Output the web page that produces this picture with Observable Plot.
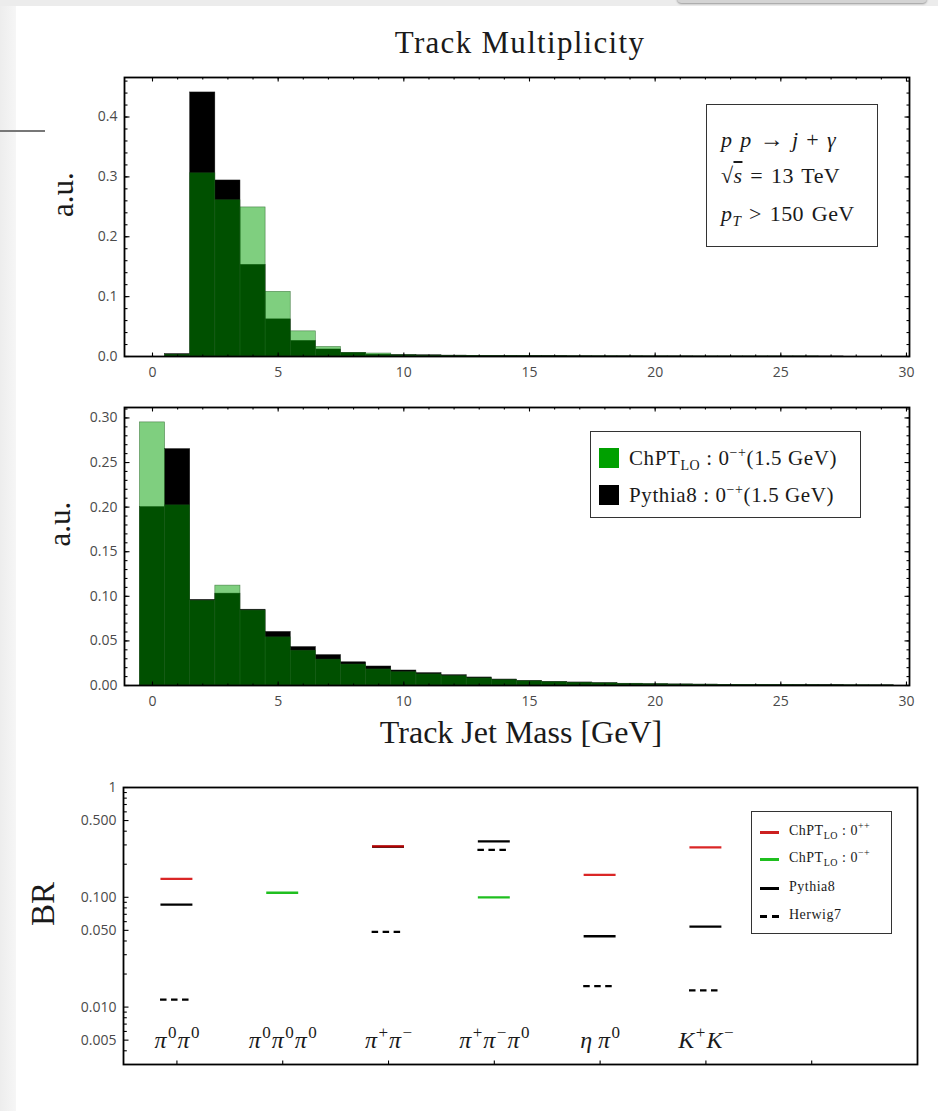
<!DOCTYPE html>
<html><head><meta charset="utf-8">
<script src="https://cdn.jsdelivr.net/npm/d3@7"></script>
<script src="https://cdn.jsdelivr.net/npm/@observablehq/plot@0.6"></script>
<style>
html,body{margin:0;padding:0;background:#fff;}
#page{position:relative;width:938px;height:1111px;overflow:hidden;background:#fff;}
.abs{position:absolute;}
.serif{font-family:"Liberation Serif","DejaVu Serif",serif;color:#1a1a1a;white-space:nowrap;}
.box{box-sizing:border-box;border:1.6px solid #333;background:#fff;}
.ln{position:absolute;line-height:24px;}
sub,sup{line-height:0;}
</style></head>
<body><div id="page"></div>
<script>
// ---------- data ----------
// Track multiplicity (top panel), bins centred on integers 0..29
const multBins = d3.range(0, 30);
const multChPT = [0, 0.003, 0.306, 0.261, 0.249, 0.108, 0.042, 0.016, 0.006, 0.005, 0.002, 0.0015, 0.001, 0.0008, 0.0006, 0.0005, 0.0004, 0.0003, 0.0003, 0.0002, 0.0002, 0.0001, 0.0001, 0.0001, 0.0001, 0.0001, 0.0001, 0, 0, 0];
const multPythia = [0, 0.004, 0.441, 0.294, 0.153, 0.062, 0.026, 0.0117, 0.006, 0.003, 0.0025, 0.002, 0.0015, 0.001, 0.0008, 0.0006, 0.0005, 0.0004, 0.0003, 0.0003, 0.0002, 0.0002, 0.0001, 0.0001, 0.0001, 0.0001, 0.0001, 0.0001, 0, 0];
// Track jet mass (middle panel), bins centred on integers 0..29
const massBins = d3.range(0, 30);
const massChPT = [0.295, 0.202, 0.095, 0.112, 0.084, 0.054, 0.039, 0.029, 0.0235, 0.018, 0.015, 0.0125, 0.0105, 0.008, 0.006, 0.0047, 0.0037, 0.003, 0.0024, 0.0018, 0.0014, 0.0011, 0.0009, 0.0007, 0.0005, 0.0004, 0.0003, 0.0002, 0.0002, 0.0001];
const massPythia = [0.200, 0.265, 0.096, 0.103, 0.085, 0.060, 0.043, 0.034, 0.026, 0.0213, 0.0168, 0.0138, 0.0115, 0.009, 0.0067, 0.0052, 0.0041, 0.0034, 0.0027, 0.002, 0.0015, 0.0012, 0.001, 0.0008, 0.0006, 0.0005, 0.0004, 0.0003, 0.0002, 0.0002];
// Branching ratios (bottom panel)
const channels = ["π⁰π⁰", "π⁰π⁰π⁰", "π⁺π⁻", "π⁺π⁻π⁰", "η π⁰", "K⁺K⁻"];
const brChPT0pp = [0.147, null, 0.291, null, 0.160, 0.285];
const brChPT0mp = [null, 0.110, null, 0.100, null, null];
const brPythia  = [0.0858, null, 0.289, 0.323, 0.0442, 0.054];
const brHerwig  = [0.0117, null, 0.0485, 0.270, 0.0155, 0.0142];
// ticks
const xMajor = [0, 5, 10, 15, 20, 25, 30];
const xMinor = d3.range(0, 31, 1);
const y1Major = [0, 0.1, 0.2, 0.3, 0.4];
const y1Minor = d3.range(0, 0.461, 0.02);
const y2Major = [0, 0.05, 0.10, 0.15, 0.20, 0.25, 0.30];
const y2Minor = d3.range(0, 0.311, 0.01);
const brMajor = [1, 0.5, 0.1, 0.05, 0.01, 0.005];
const brMinor = [0.9, 0.8, 0.7, 0.6, 0.4, 0.3, 0.2, 0.09, 0.08, 0.07, 0.06, 0.04, 0.03, 0.02, 0.009, 0.008, 0.007, 0.006, 0.004];
const chanTicks = [1, 2, 3, 4, 5, 6, 7];

// ---------- layout ----------
const W = 938;
const page = document.getElementById("page");
const SERIF = "Liberation Serif, DejaVu Serif, serif";
const SANS = "Open Sans, DejaVu Sans, sans-serif";
const GREEN = "#00a000";
const TICKCOL = "#4a4a4a";

function place(svg, top) {
  svg.style.position = "absolute";
  svg.style.left = "0px";
  svg.style.top = top + "px";
  page.appendChild(svg);
}
function inward(H, PWv, xs, ys, size, sides) {
  const m = [];
  const common = {tickSize: size, tickFormat: () => "", label: null, stroke: "#000", strokeWidth: 1.1};
  if (xs && sides.includes("b")) m.push(Plot.axisX(xs, {...common, anchor: "top", dy: H}));
  if (xs && sides.includes("t")) m.push(Plot.axisX(xs, {...common, anchor: "bottom", dy: -H}));
  if (ys && sides.includes("l")) m.push(Plot.axisY(ys, {...common, anchor: "right", dx: -PWv}));
  if (ys && sides.includes("r")) m.push(Plot.axisY(ys, {...common, anchor: "left", dx: PWv}));
  return m;
}
const labelStyle = {fontSize: 14, fontFamily: SANS, color: TICKCOL, label: null, tickSize: 0};

function histPanel({bins, chpt, pythia, top, mt, ph, mb, yDomain, yMajor, yMinor, yFmt, extra = []}) {
  const ML = 124, MR = 29, PW = W - ML - MR;
  const rows = bins.map((b, i) => ({x1: b - 0.5, x2: b + 0.5, chpt: chpt[i], pythia: pythia[i]}));
  const svg = Plot.plot({
    width: W, height: mt + ph + mb,
    marginLeft: ML, marginRight: MR, marginTop: mt, marginBottom: mb,
    style: {background: "transparent", overflow: "visible"},
    x: {domain: [-1.114, 30.12]},
    y: {domain: yDomain},
    marks: [
      Plot.rectY(rows, {x1: "x1", x2: "x2", y: "pythia", fill: "#000", stroke: "#111", strokeWidth: 0.5}),
      Plot.rectY(rows, {x1: "x1", x2: "x2", y: "chpt", fill: GREEN, fillOpacity: 0.5, stroke: "#1d5a1d", strokeOpacity: 0.7, strokeWidth: 0.6}),
      ...inward(ph, PW, xMinor, yMinor, 2.5, "btlr"),
      ...inward(ph, PW, xMajor, yMajor, 4.5, "btlr"),
      Plot.axisX(xMajor, {...labelStyle, anchor: "bottom", tickPadding: 11, tickFormat: d => String(d)}),
      Plot.axisY(yMajor, {...labelStyle, anchor: "left", tickPadding: 7, tickFormat: yFmt}),
      Plot.frame({stroke: "#000", strokeWidth: 1.8}),
      ...extra
    ]
  });
  place(svg, top);
}

// Panel 1
histPanel({
  bins: multBins, chpt: multChPT, pythia: multPythia,
  top: 57, mt: 20, ph: 279, mb: 30,
  yDomain: [0, 0.466], yMajor: y1Major, yMinor: y1Minor, yFmt: d3.format(".1f"),
  extra: [Plot.text(["a.u."], {frameAnchor: "left", dx: -61, rotate: -90, fontSize: 31, fontFamily: SERIF, fill: "#1a1a1a"})]
});
// Panel 2
histPanel({
  bins: massBins, chpt: massChPT, pythia: massPythia,
  top: 387, mt: 20, ph: 278, mb: 80,
  yDomain: [0, 0.3117], yMajor: y2Major, yMinor: y2Minor, yFmt: d3.format(".2f"),
  extra: [
    Plot.text(["a.u."], {frameAnchor: "left", dx: -64, rotate: -90, fontSize: 31, fontFamily: SERIF, fill: "#1a1a1a"}),
    Plot.text(["Track Jet Mass [GeV]"], {frameAnchor: "bottom", dy: 57, dx: 4, fontSize: 32, fontFamily: SERIF, fill: "#1a1a1a", style: "letter-spacing:1.5px"})
  ]
});

// Panel 3 (branching ratios)
{
  const ML = 123, MR = 21, PW = W - ML - MR, mt = 20, ph = 277, mb = 30;
  const seg = (vals, name) => vals.map((v, i) => ({i: i + 1, v, name})).filter(d => d.v != null);
  const solid = {x1: d => d.i - 0.151, x2: d => d.i + 0.151, y: "v", strokeWidth: 2.3};
  const svg = Plot.plot({
    width: W, height: mt + ph + mb,
    marginLeft: ML, marginRight: MR, marginTop: mt, marginBottom: mb,
    style: {background: "transparent", overflow: "visible"},
    x: {domain: [0.495, 8.0]},
    y: {type: "log", domain: [0.003, 1]},
    marks: [
      Plot.ruleY(seg(brPythia, "Pythia8"), {...solid, stroke: "#000"}),
      Plot.ruleY(seg(brChPT0pp, "ChPT 0++"), {...solid, stroke: "#d40000", strokeOpacity: 0.85}),
      Plot.ruleY(seg(brChPT0mp, "ChPT 0-+"), {...solid, stroke: "#1fbf1f"}),
      Plot.ruleY(seg(brHerwig, "Herwig7"), {x1: d => d.i - 0.155, x2: d => d.i + 0.115, y: "v", stroke: "#000", strokeWidth: 2.3, strokeDasharray: "6.5,4.5"}),
      Plot.text(channels.map((c, i) => ({i: i + 1, c})), {x: "i", text: "c", frameAnchor: "bottom", dy: -17, fontSize: 24, fontStyle: "italic", fontFamily: SERIF, fill: "#1a1a1a"}),
      ...inward(ph, PW, null, brMinor, 2.8, "l"),
      ...inward(ph, PW, chanTicks, brMajor, 4.5, "bl"),
      Plot.text(brMajor, {y: d => d, text: d => d === 1 ? "1" : d3.format(".3f")(d), frameAnchor: "left", textAnchor: "end", dx: -7, fontSize: 14, fontFamily: SANS, fill: TICKCOL}),
      Plot.frame({stroke: "#000", strokeWidth: 1.8}),
      Plot.text(["BR"], {frameAnchor: "left", dx: -80, rotate: -90, fontSize: 33, fontFamily: SERIF, fill: "#1a1a1a"})
    ]
  });
  // typeset superscripts of channel names as raised upright tspans
  const sup = {"⁰": "0", "⁺": "+", "⁻": "−"};
  svg.querySelectorAll("text").forEach(t => {
    const s = t.textContent;
    if (!channels.includes(s)) return;
    t.textContent = "";
    let raised = false;
    for (const ch of s) {
      const ts = document.createElementNS("http://www.w3.org/2000/svg", "tspan");
      if (sup[ch] !== undefined) {
        ts.textContent = sup[ch];
        ts.setAttribute("font-size", "17");
        ts.setAttribute("font-style", "normal");
        ts.setAttribute("dx", "1.5");
        if (!raised) { ts.setAttribute("dy", "-10"); raised = true; }
      } else {
        ts.textContent = ch;
        if (raised) { ts.setAttribute("dy", "10"); ts.setAttribute("dx", "1"); raised = false; }
      }
      t.appendChild(ts);
    }
  });
  place(svg, 767);
}

// ---------- HTML overlays (title, legends, annotation) ----------
function html(s) { page.insertAdjacentHTML("beforeend", s); }
html(`<div class="abs serif" style="left:270px;top:25px;width:500px;text-align:center;font-size:31px;letter-spacing:1.3px;">Track Multiplicity</div>`);
html(`<div class="abs box serif" style="left:706px;top:104px;width:172px;height:143px;font-size:22px;letter-spacing:0.4px;word-spacing:2px;">
  <div class="ln" style="left:14px;top:22px;"><i>p</i> <i>p</i> <span style="font-size:24px;">→</span> <i>j</i> + <i>γ</i></div>
  <div class="ln" style="left:14px;top:59px;">√<span style="text-decoration:overline;"><i>s</i></span> = 13 TeV</div>
  <div class="ln" style="left:14px;top:97px;"><i>p</i><sub style="font-size:15px;"><i>T</i></sub> &gt; 150 GeV</div>
</div>`);
html(`<div class="abs box serif" style="left:590px;top:431px;width:271px;height:87px;font-size:21px;letter-spacing:0.6px;">
  <div class="abs" style="left:8px;top:16px;width:20px;height:20px;background:${GREEN};"></div>
  <div class="abs" style="left:8px;top:53px;width:20px;height:20px;background:#000;"></div>
  <div class="ln" style="left:38px;top:14px;">ChPT<sub style="font-size:14px;">LO</sub> : 0<sup style="font-size:14px;">−+</sup>(1.5 GeV)</div>
  <div class="ln" style="left:38px;top:51px;">Pythia8 : 0<sup style="font-size:14px;">−+</sup>(1.5 GeV)</div>
</div>`);
html(`<div class="abs box serif" style="left:751px;top:811px;width:141px;height:123px;font-size:14px;letter-spacing:0.5px;">
  <div class="abs" style="left:8px;top:19px;width:19px;height:2.5px;background:#cc2020;"></div>
  <div class="abs" style="left:8px;top:46px;width:19px;height:2.5px;background:#1fbf1f;"></div>
  <div class="abs" style="left:8px;top:75px;width:19px;height:2.5px;background:#000;"></div>
  <div class="abs" style="left:8px;top:103px;width:19px;height:2.5px;background:repeating-linear-gradient(to right,#000 0 7px,transparent 7px 12px);"></div>
  <div class="ln" style="left:37px;top:8px;line-height:22px;">ChPT<sub style="font-size:10px;">LO</sub> : 0<sup style="font-size:10px;">++</sup></div>
  <div class="ln" style="left:37px;top:35px;line-height:22px;">ChPT<sub style="font-size:10px;">LO</sub> : 0<sup style="font-size:10px;">−+</sup></div>
  <div class="ln" style="left:37px;top:64px;line-height:22px;">Pythia8</div>
  <div class="ln" style="left:37px;top:92px;line-height:22px;">Herwig7</div>
</div>`);
// screenshot chrome around the figure
html(`<div class="abs" style="left:0;top:0;width:16px;height:1111px;background:linear-gradient(to right,#ededed,#f6f6f6);"></div>`);
html(`<div class="abs" style="left:0;top:0;width:938px;height:6px;background:#ececec;"></div>`);
html(`<div class="abs" style="left:677px;top:-6px;width:250px;height:9px;border-radius:6px;background:#d4d4d4;box-shadow:0 1px 2px #999;"></div>`);
html(`<div class="abs" style="left:0;top:130px;width:45px;height:1.5px;background:#777;"></div>`);
</script>
</body></html>
